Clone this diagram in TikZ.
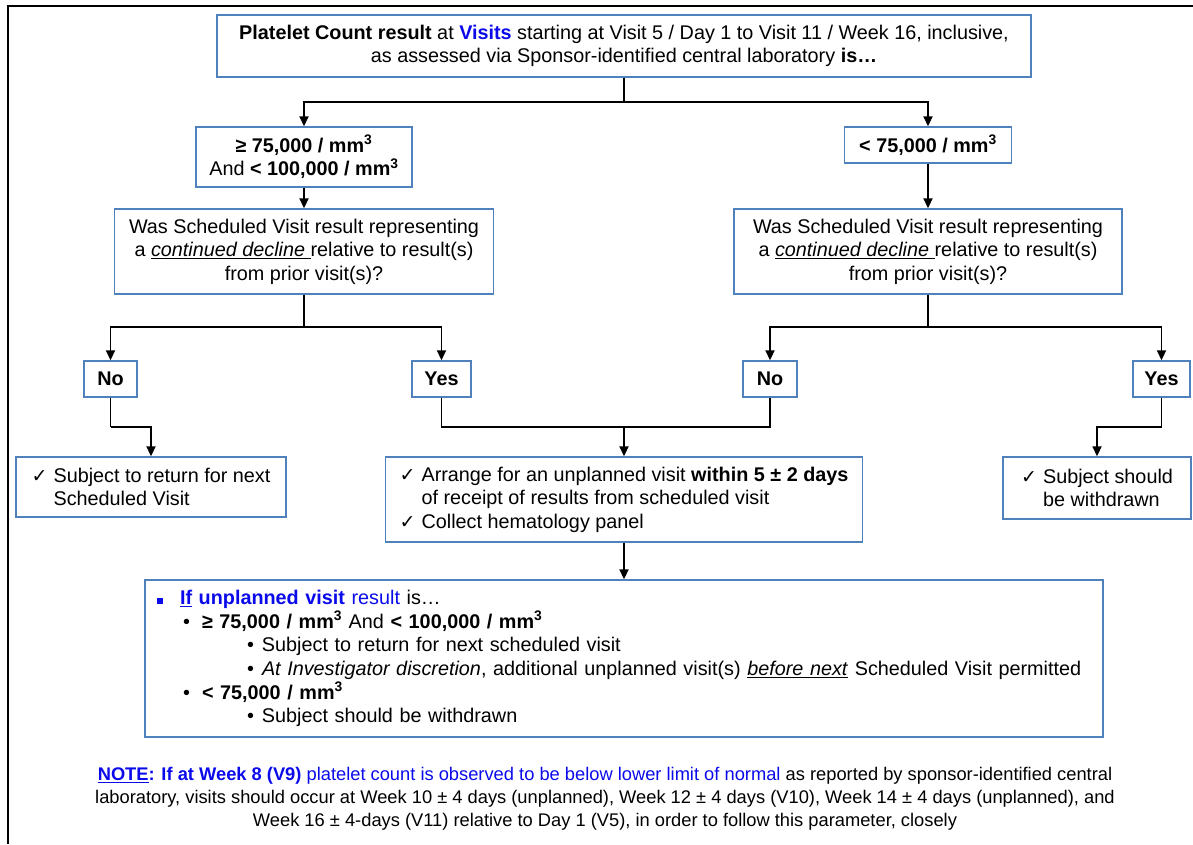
\documentclass[tikz,border=0pt]{standalone}
\usepackage{fontspec}
\setmainfont{Liberation Sans}
\newfontfamily\tickfont{DejaVu Sans}
\usepackage{tikz}
\usetikzlibrary{arrows.meta}
\definecolor{boxblue}{RGB}{79,129,189}
\definecolor{txtblue}{RGB}{10,10,235}
\newcommand{\tck}{\makebox[22pt][l]{\tickfont\fontsize{19}{19}\selectfont ✓}}
\newcommand{\mmc}{mm\textsuperscript{3}}
\newcommand{\sqbul}{\makebox[23pt][l]{\textcolor{txtblue}{\raisebox{1pt}{\rule{5.5pt}{5.5pt}}}}}
\newcommand{\bulb}{\hspace*{26pt}\makebox[19pt][l]{•}}
\newcommand{\bulc}{\hspace*{90pt}\makebox[15pt][l]{•}}
\tikzstyle{box}  = [draw=boxblue, line width=1.4pt, fill=white, inner sep=0pt, align=center]
\tikzstyle{flow} = [line width=1.8pt, -{Triangle[length=10pt,width=9pt]}]
\tikzstyle{wire} = [line width=1.8pt]
\begin{document}
\begin{tikzpicture}[x=1pt,y=-1pt,font=\fontsize{19.8}{23.6}\selectfont]
		\useasboundingbox (0,0) rectangle (1193,844);
		\draw[line width=2pt] (8,844) -- (8,6) -- (1193,6);

		\node[box,minimum width=814pt,minimum height=62pt] (top) at (624,46) {\textbf{Platelet Count result} at \textcolor{txtblue}{\textbf{Visits}} starting at Visit 5 / Day 1 to Visit 11 / Week 16, inclusive,\\as assessed via Sponsor-identified central laboratory \textbf{is…}};

		\node[box,minimum width=216pt,minimum height=60pt] (ge) at (304,157) {\textbf{≥ 75,000 / \mmc}\\And \textbf{< 100,000 / \mmc}};
		\node[box,minimum width=167pt,minimum height=36pt] (lt) at (928,145) {\textbf{< 75,000 / \mmc}};

		\node[box,minimum width=379pt,minimum height=85pt] (qa) at (304,251.5) {Was Scheduled Visit result representing\\a \underline{\textit{continued decline }}relative to result(s)\\from prior visit(s)?};
		\node[box,minimum width=388pt,minimum height=85pt] (qb) at (928,251.5) {Was Scheduled Visit result representing\\a \underline{\textit{continued decline }}relative to result(s)\\from prior visit(s)?};

		\node[box,minimum width=53pt,minimum height=36pt] (noa) at (110.5,379) {\textbf{No}};
		\node[box,minimum width=59pt,minimum height=36pt] (yesa) at (441.5,379) {\textbf{Yes}};
		\node[box,minimum width=54pt,minimum height=36pt] (nob) at (770,379) {\textbf{No}};
		\node[box,minimum width=57pt,minimum height=36pt] (yesb) at (1161.5,379) {\textbf{Yes}};

		\node[box,align=left,minimum width=270pt,minimum height=60pt] (back) at (151,487) {\tck Subject to return for next\\\hspace*{22pt}Scheduled Visit};
		\node[box,align=left,minimum width=477pt,minimum height=85pt] (recheck) at (624,499.5) {\tck Arrange for an unplanned visit \textbf{within 5 ± 2 days}\\\hspace*{22pt}of receipt of results from scheduled visit\\\tck Collect hematology panel};
		\node[box,align=left,minimum width=188pt,minimum height=62pt] (out) at (1097,488) {\tck Subject should\\\hspace*{22pt}be withdrawn};

		\node[box,align=left,text width=934pt,inner xsep=12pt,minimum height=157pt] (unpl) at (624,658.5) {\sqbul\textcolor{txtblue}{\underline{\textbf{If}}\textbf{ unplanned visit} result} is…\\
			\bulb\textbf{≥ 75,000 / \mmc} And \textbf{< 100,000 / \mmc}\\
			\bulc Subject to return for next scheduled visit\\
			\bulc\textit{At Investigator discretion}, additional unplanned visit(s) \underline{\textit{before next}} Scheduled Visit permitted\\
			\bulb\textbf{< 75,000 / \mmc}\\
			\bulc Subject should be withdrawn};

		\node[align=center,font=\fontsize{18.3}{23}\selectfont] (note) at (605,799) {\textcolor{txtblue}{\underline{\textbf{NOTE}}\textbf{: If at Week 8 (V9)} platelet count is observed to be below lower limit of normal} as reported by sponsor-identified central\\laboratory, visits should occur at Week 10 ± 4 days (unplanned), Week 12 ± 4 days (V10), Week 14 ± 4 days (unplanned), and\\Week 16 ± 4-days (V11) relative to Day 1 (V5), in order to follow this parameter, closely};

		\coordinate (s0) at (624,102);
		\coordinate (s1) at (304,327);
		\coordinate (s2) at (928,327);
		\coordinate (ja) at (110.5,427);
		\coordinate (jb) at (624,427);
		\coordinate (jc) at (1161.5,427);

		\draw[wire] (top.south) -- (s0);
		\draw[flow] (s0) -| (ge.north);
		\draw[flow] (s0) -| (lt.north);
		\draw[flow] (ge.south) -- (qa.north);
		\draw[flow] (lt.south) -- (qb.north);
		\draw[wire] (qa.south) -- (s1);
		\draw[flow] (s1) -| (noa.north);
		\draw[flow] (s1) -| (yesa.north);
		\draw[wire] (qb.south) -- (s2);
		\draw[flow] (s2) -| (nob.north);
		\draw[flow] (s2) -| (yesb.north);
		\draw[wire] (noa.south) -- (ja);
		\draw[flow] (ja) -| (back.north);
		\draw[wire] (yesa.south) |- (jb);
		\draw[wire] (nob.south) |- (jb);
		\draw[flow] (jb) -- (recheck.north);
		\draw[wire] (yesb.south) -- (jc);
		\draw[flow] (jc) -| (out.north);
		\draw[flow] (recheck.south) -- (unpl.north);
	\end{tikzpicture}
\end{document}
